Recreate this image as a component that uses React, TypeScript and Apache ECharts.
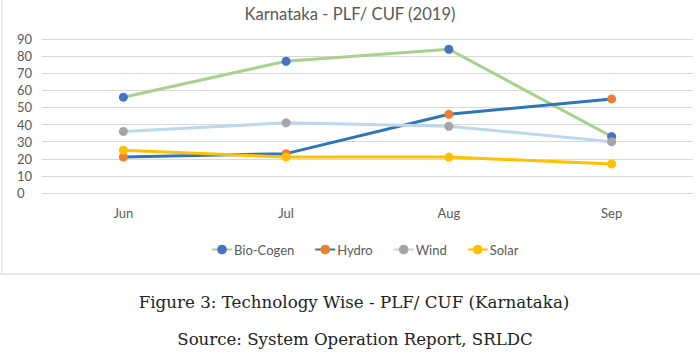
import React, { useEffect, useRef } from "react";
import * as echarts from "echarts";

const months = ["Jun", "Jul", "Aug", "Sep"];
const bioCogen = [56, 77, 84, 33];
const hydro = [21, 23, 46, 55];
const wind = [36, 41, 39, 30];
const solar = [25, 21, 21, 17];
const yTicks = { min: 0, max: 90, interval: 10 };

const titleText = "Karnataka - PLF/ CUF (2019)";
const captionText = "Figure 3: Technology Wise - PLF/ CUF (Karnataka)";
const sourceText = "Source: System Operation Report, SRLDC";

const SANS = "Lato, 'Noto Sans', sans-serif";
const SERIF = "'DejaVu Serif', 'Liberation Serif', serif";

export default function App() {
  const ref = useRef<HTMLDivElement>(null);
  useEffect(() => {
    if (!ref.current) return;
    const chart = echarts.init(ref.current, undefined, { renderer: "svg" });
    const mk = (name: string, data: number[], line: string, marker: string) => ({
      name,
      type: "line",
      data,
      symbol: "circle",
      symbolSize: 9,
      lineStyle: { color: line, width: 3 },
      itemStyle: { color: marker, borderColor: marker, borderWidth: 0 },
      emphasis: { disabled: true },
    });
    chart.setOption({
      animation: false,
      backgroundColor: "#ffffff",
      title: {
        text: titleText,
        left: "center",
        top: 0,
        textStyle: { fontFamily: SANS, fontSize: 16.6, fontWeight: "normal", color: "#595959" },
      },
      grid: { left: 42, right: 7, top: 39, bottom: 163, containLabel: false },
      xAxis: {
        type: "category",
        data: months,
        boundaryGap: true,
        axisLine: { show: false },
        axisTick: { show: false },
        axisLabel: { fontFamily: SANS, fontSize: 13, color: "#595959", margin: 13 },
      },
      yAxis: {
        type: "value",
        min: yTicks.min,
        max: yTicks.max,
        interval: yTicks.interval,
        axisLine: { show: false },
        axisTick: { show: false },
        splitLine: { lineStyle: { color: "#d9d9d9", width: 1 } },
        axisLabel: { fontFamily: SANS, fontSize: 13, color: "#595959", align: "left", margin: 25 },
      },
      legend: {
        left: 206,
        top: 238,
        itemWidth: 20,
        itemHeight: 12,
        itemGap: 20,
        textStyle: { fontFamily: SANS, fontSize: 13, color: "#595959", padding: [0, 0, 0, -3] },
        data: ["Bio-Cogen", "Hydro", "Wind", "Solar"],
      },
      series: [
        mk("Bio-Cogen", bioCogen, "#A9D18E", "#4472C4"),
        mk("Hydro", hydro, "#2E75B6", "#ED7D31"),
        mk("Wind", wind, "#BDD7EE", "#A5A5A5"),
        mk("Solar", solar, "#FFC000", "#FFC000"),
      ],
      graphic: [
        { type: "line", shape: { x1: 2, y1: 0, x2: 2, y2: 274 }, style: { stroke: "#e6e6e6", lineWidth: 1.5 } },
        { type: "line", shape: { x1: 0, y1: 274, x2: 700, y2: 274 }, style: { stroke: "#e6e6e6", lineWidth: 2 } },
        {
          type: "text",
          x: 354,
          y: 302,
          style: { text: captionText, font: `16.7px ${SERIF}`, fill: "#222222", align: "center", verticalAlign: "middle" },
        },
        {
          type: "text",
          x: 355,
          y: 339,
          style: { text: sourceText, font: `16.6px ${SERIF}`, fill: "#222222", align: "center", verticalAlign: "middle" },
        },
      ],
    });
    return () => chart.dispose();
  }, []);
  return <div ref={ref} style={{ position: "absolute", left: 0, top: 0, width: 700, height: 356 }} />;
}
